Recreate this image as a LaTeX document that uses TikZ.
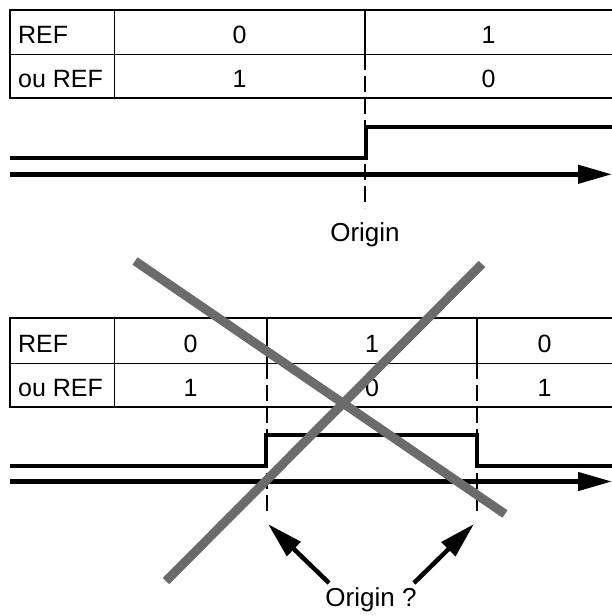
\documentclass[tikz,border=0pt]{standalone}
\usepackage{fontspec}
\setmainfont{Liberation Sans}
\usetikzlibrary{arrows.meta}
\begin{document}
\begin{tikzpicture}[x=1pt,y=-1pt,
  tableframe/.style={line width=2pt},
  rule/.style={line width=0.9pt},
  divider/.style={line width=1.4pt},
  guide/.style={line width=1.2pt, dash pattern=on 16pt off 6pt},
  level/.style={line width=4pt, line join=miter},
  axis/.style={line width=4.5pt, -{Triangle[length=34pt,width=18pt]}},
  cell/.style={font=\fontsize{25}{25}\selectfont, anchor=base, inner sep=0pt},
  rowhead/.style={cell, anchor=base west},
  caption/.style={font=\fontsize{26}{26}\selectfont, anchor=base, inner sep=0pt},
  pointer/.style={line width=4.5pt, -{Triangle[length=36pt,width=19pt]}},
  strike/.style={line width=9pt, draw=black!58}
]
\useasboundingbox (0,0) rectangle (612,616);

% ---------- upper chart: a single step ----------
\draw[tableframe] (612,9.5) -- (10,9.5) -- (10,98) -- (612,98);
\draw[rule] (10,54) -- (612,54);
\draw[rule] (114,9.5) -- (114,98);
\draw[divider] (365,9.5) -- (365,54);
\draw[guide] (365,54) -- (365,208);

\node[rowhead] (ta1) at (18,43.5) {REF};
\node[cell]    (ta2) at (239.5,43.5) {0};
\node[cell]    (ta3) at (488.5,43.5) {1};
\node[rowhead] (tb1) at (18,87) {ou REF};
\node[cell]    (tb2) at (239.5,87) {1};
\node[cell]    (tb3) at (488.5,87) {0};

\draw[level] (10,158.3) -- (366,158.3) -- (366,126.7) -- (612,126.7);
\draw[axis] (10,174.3) -- (612,174.3);

\node[caption] (origin) at (365,241) {Origin};

% ---------- lower chart: a pulse ----------
\draw[tableframe] (612,318) -- (10,318) -- (10,407) -- (612,407);
\draw[rule] (10,363) -- (612,363);
\draw[rule] (114,318) -- (114,407);
\draw[divider] (267,318) -- (267,363);
\draw[guide] (267,363) -- (267,514);
\draw[divider] (477,318) -- (477,363);
\draw[guide] (477,363) -- (477,514);

\node[rowhead] (ba1) at (18,352) {REF};
\node[cell]    (ba2) at (190.5,352) {0};
\node[cell]    (ba3) at (372,352) {1};
\node[cell]    (ba4) at (544.5,352) {0};
\node[rowhead] (bb1) at (18,396.5) {ou REF};
\node[cell]    (bb2) at (190.5,396.5) {1};
\node[cell]    (bb3) at (372,396.5) {0};
\node[cell]    (bb4) at (544.5,396.5) {1};

\draw[level] (10,466) -- (266,466) -- (266,435) -- (477,435) -- (477,466) -- (612,466);
\draw[axis] (10,481.5) -- (612,481.5);

\node[caption] (query) at (371,606) {Origin ?};
\coordinate (tailL) at (329,583);
\coordinate (tipL) at (268,524);
\coordinate (tailR) at (414,583);
\coordinate (tipR) at (474,524);
\draw[pointer] (tailL) -- (tipL);
\draw[pointer] (tailR) -- (tipR);

% ---------- crossing-out strokes ----------
\draw[strike] (135,261) -- (505,514);
\draw[strike] (482,264) -- (166,581);
\end{tikzpicture}
\end{document}
